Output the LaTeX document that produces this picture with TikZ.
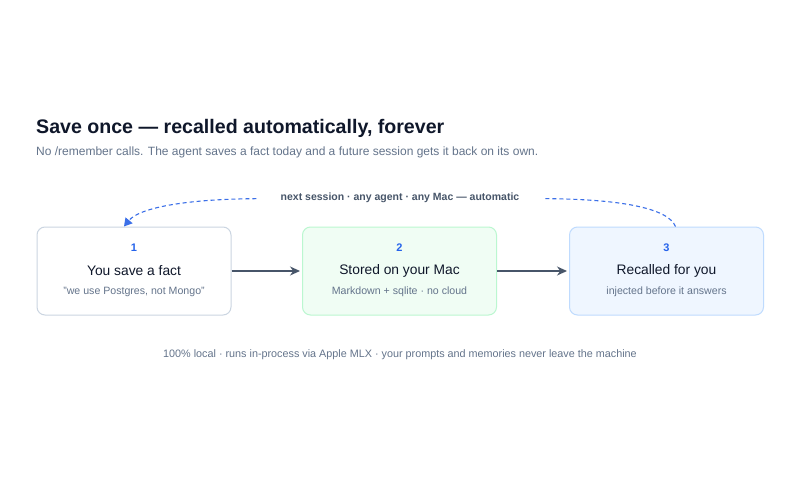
\documentclass[tikz,border=0pt]{standalone}
\usepackage{fontspec}
\setmainfont{Liberation Sans}
\usepackage{xcolor}
\definecolor{InkDark}{HTML}{0F172A}
\definecolor{InkMuted}{HTML}{64748B}
\definecolor{InkLabel}{HTML}{475569}
\definecolor{StepBlue}{HTML}{2563EB}
\definecolor{RecallLine}{HTML}{3B6FE8}
\definecolor{SaveLine}{HTML}{CBD5E1}
\definecolor{StoreFill}{HTML}{F0FDF4}
\definecolor{StoreLine}{HTML}{BBF7D0}
\definecolor{RecallFill}{HTML}{EFF6FF}
\definecolor{RecallEdge}{HTML}{BFDBFE}
\usetikzlibrary{positioning,arrows.meta}

\begin{document}
\begin{tikzpicture}[
    x=1pt, y=-1pt,
    stepbox/.style={
        draw,
        rounded corners=8pt,
        line width=1pt,
        minimum width=194pt,
        minimum height=88pt,
        inner sep=0pt
    },
    num/.style={
        font=\fontsize{11}{13}\selectfont\bfseries,
        text=StepBlue
    },
    ttl/.style={
        font=\fontsize{13.8}{16}\selectfont,
        text=InkDark
    },
    sub/.style={
        font=\fontsize{10.6}{12}\selectfont,
        text=InkMuted
    },
    arr/.style={-{Stealth[length=10pt,width=9pt]},line width=1.4pt,draw=InkLabel,shorten >=2pt},
    recall/.style={draw=RecallLine,line width=1.1pt,dash pattern=on 4pt off 3pt}
]

\useasboundingbox[fill=white] (0,0) rectangle (800,479);

% ---------------------------------------------------------
% Heading
% ---------------------------------------------------------

\node[anchor=base west,inner sep=0pt,text=InkDark,
      font=\fontsize{19.6}{23}\selectfont\bfseries] (head) at (36,133)
{Save once — recalled automatically, forever};

\node[anchor=base west,inner sep=0pt,text=InkMuted,
      font=\fontsize{12}{14}\selectfont] (lead) at (36,155)
{No /remember calls. The agent saves a fact today and a future session gets it back on its own.};

% ---------------------------------------------------------
% The three steps
% ---------------------------------------------------------

\node[stepbox,draw=SaveLine,fill=white] (s1) at (134,271) {};
\node[stepbox,draw=StoreLine,fill=StoreFill] (s2) at (399.5,271) {};
\node[stepbox,draw=RecallEdge,fill=RecallFill] (s3) at (666.5,271) {};

\node[num] (n1) at ([yshift=23pt]s1.center) {1};
\node[ttl] (t1) at (s1.center) {You save a fact};
\node[sub] (d1) at ([yshift=-21pt]s1.center) {"we use Postgres, not Mongo"};

\node[num] (n2) at ([yshift=23pt]s2.center) {2};
\node[ttl] (t2) at (s2.center) {Stored on your Mac};
\node[sub] (d2) at ([yshift=-21pt]s2.center) {Markdown + sqlite · no cloud};

\node[num] (n3) at ([yshift=23pt]s3.center) {3};
\node[ttl] (t3) at (s3.center) {Recalled for you};
\node[sub] (d3) at ([yshift=-21pt]s3.center) {injected before it answers};

% ---------------------------------------------------------
% Flow and recall loop
% ---------------------------------------------------------

\draw[arr] (s1) -- (s2);
\draw[arr] (s2) -- (s3);

\node[text=InkLabel,inner xsep=24pt,inner ysep=2pt,
      font=\fontsize{10.5}{12}\selectfont\bfseries] (nxt) at (400,198)
{next session · any agent · any Mac — automatic};

\draw[recall] ([xshift=9pt]s3.north) .. controls (668,208) and (620,199) .. (nxt);
\draw[recall,-{Triangle[length=8pt,width=9pt]}]
    (nxt) .. controls (190,199) and (140,207) .. ([xshift=-10pt]s1.north);

% ---------------------------------------------------------
% Footnote
% ---------------------------------------------------------

\node[text=InkMuted,font=\fontsize{10.8}{13}\selectfont] (foot) at (400,355)
{100\% local · runs in-process via Apple MLX · your prompts and memories never leave the machine};

\end{tikzpicture}
\end{document}
